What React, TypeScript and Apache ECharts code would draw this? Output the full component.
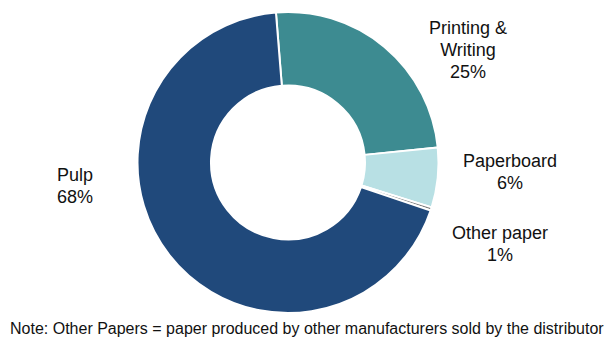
import React, { useEffect, useRef } from "react";
import * as echarts from "echarts";

const categories = ["Printing &\nWriting", "Paperboard", "Other paper", "Pulp"];
const shares = [24.7, 6.4, 0.35, 68.55];
const shareLabels = ["25%", "6%", "1%", "68%"];
const colors = ["#3D8B91", "#B8E0E4", "#808080", "#20497B"];
const labelPos: [number, number][] = [
  [468, 50],
  [510, 172],
  [500, 244],
  [75, 186],
];
const note = "Note: Other Papers = paper produced by other manufacturers sold by the distributor";

export default function App() {
  const ref = useRef<HTMLDivElement>(null);
  useEffect(() => {
    document.body.style.margin = "0";
    const chart = echarts.init(ref.current!, null, { renderer: "svg" });
    chart.setOption({
      animation: false,
      backgroundColor: "#ffffff",
      series: [
        {
          type: "pie",
          center: [288, 162.5],
          radius: [77, 150.5],
          startAngle: 94.6,
          clockwise: true,
          avoidLabelOverlap: false,
          itemStyle: { borderColor: "#ffffff", borderWidth: 2 },
          label: {
            show: true,
            position: "outside",
            fontFamily: "Liberation Sans, Arial, sans-serif",
            fontSize: 18,
            lineHeight: 22,
            color: "#111111",
            align: "center",
            formatter: (p: any) => `${categories[p.dataIndex]}\n${shareLabels[p.dataIndex]}`,
          },
          labelLine: { show: false },
          labelLayout: (p: any) => ({
            x: labelPos[p.dataIndex][0],
            y: labelPos[p.dataIndex][1],
            align: "center",
            verticalAlign: "middle",
          }),
          data: categories.map((c, i) => ({
            name: c,
            value: shares[i],
            itemStyle: { color: colors[i] },
          })),
        },
      ],
      graphic: [
        {
          type: "text",
          left: 10,
          top: 320,
          style: {
            text: note,
            fontFamily: "Liberation Sans, Arial, sans-serif",
            fontSize: 16,
            fill: "#111111",
          },
        },
      ],
    });
    return () => chart.dispose();
  }, []);
  return (
    <div
      ref={ref}
      style={{ position: "absolute", left: 0, top: 0, width: 606, height: 338 }}
    />
  );
}
